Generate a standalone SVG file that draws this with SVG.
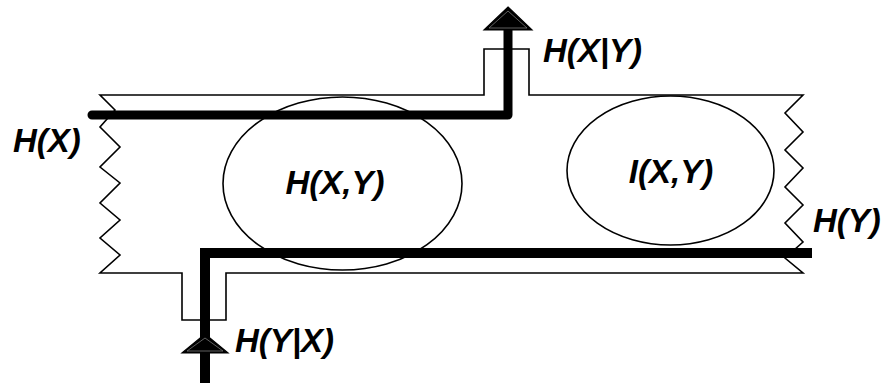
<svg xmlns="http://www.w3.org/2000/svg" width="882" height="383" viewBox="0 0 882 383">
<style>
.thin{fill:none;stroke:#000;stroke-width:1.6;stroke-linejoin:miter}
.ell{fill:none;stroke:#000;stroke-width:1.6}
.lbl{font-family:"Liberation Sans",Arial,sans-serif;font-weight:bold;font-style:italic;font-size:33px;fill:#000}
.thick{fill:none;stroke:#000}
.head{fill:#000;stroke:#000;stroke-width:1.2;stroke-linejoin:miter}
.headin{fill:none;stroke:#777;stroke-width:0.8}
</style>
<rect width="882" height="383" fill="#fff"/>
<g id="band">
<path class="thin" d="M100,95 H484 V49 H529 V95 H803 L785,113 L803,132 L785,150 L803,168 L785,187 L803,205 L785,223 L803,242 L785,258 L803,273 H226 V320 H182 V273 H100 L120,255 L100,238 L120,220 L100,203 L120,183 L100,167 L120,147 L100,127 L115,110 Z"/>
</g>
<g id="node-hxy">
<ellipse class="ell" cx="342.5" cy="183.5" rx="119.5" ry="86.5"/>
<text class="lbl" x="335" y="194" text-anchor="middle">H(X,Y)</text>
</g>
<g id="node-ixy">
<ellipse class="ell" cx="670.5" cy="170.5" rx="103.5" ry="74.5"/>
<text class="lbl" x="671" y="183" text-anchor="middle">I(X,Y)</text>
</g>
<g id="connectors">
<path class="thick" d="M92,115 H508 V30" stroke-width="9" stroke-linecap="round" stroke-linejoin="round"/>
<polygon class="head" points="508,7 532,30 484,30"/>
<polygon class="headin" points="508,11 527,28 489,28"/>
<path class="thick" d="M205,383 V253 H812" stroke-width="10" stroke-linecap="butt" stroke-linejoin="miter"/>
<polygon class="head" points="205,334 228,353 182,353"/>
<polygon class="headin" points="205,338 223,351 187,351"/>
</g>
<g id="label-hx"><text class="lbl" x="13" y="152">H(X)</text></g>
<g id="label-hy"><text class="lbl" x="813" y="232">H(Y)</text></g>
<g id="label-hxgy"><text class="lbl" x="543" y="62">H(X|Y)</text></g>
<g id="label-hygx"><text class="lbl" x="235" y="352">H(Y|X)</text></g>
</svg>
